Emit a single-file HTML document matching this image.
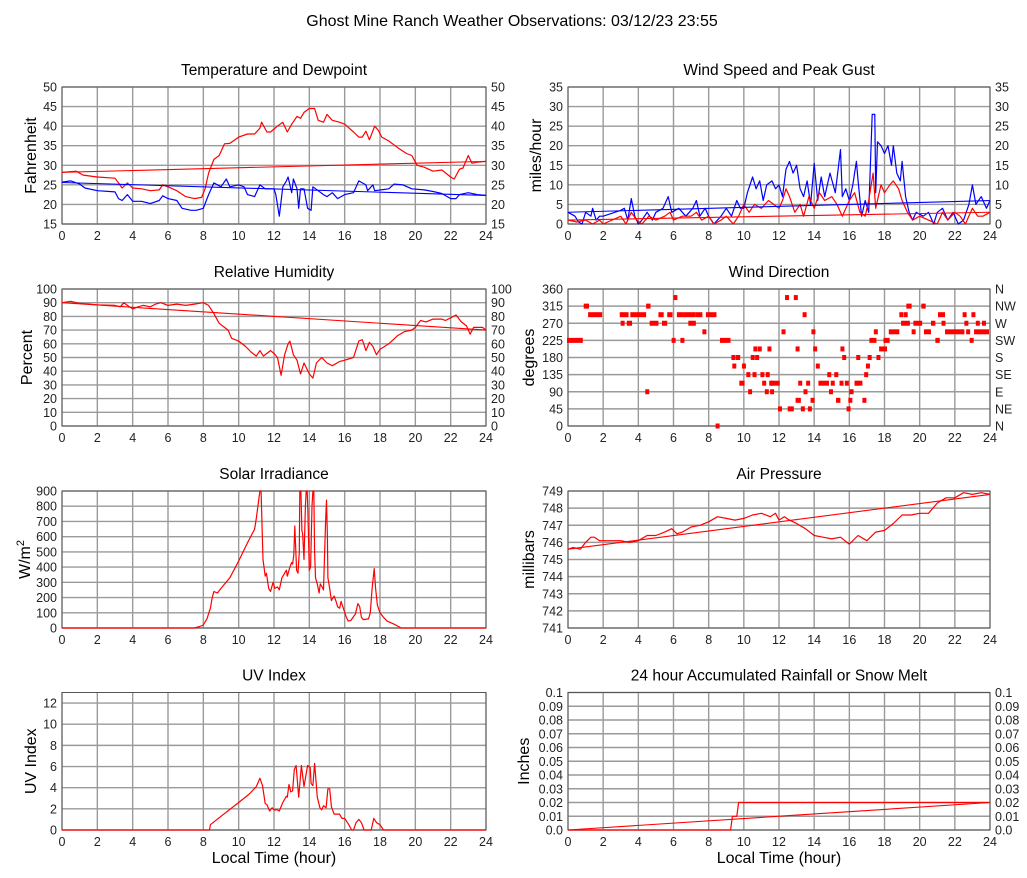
<!DOCTYPE html>
<html><head><meta charset="utf-8"><style>
body{margin:0;background:#fff;}
svg{display:block;font-family:"Liberation Sans",sans-serif;}
</style></head><body>
<svg id="c" width="1027" height="878" viewBox="0 0 1027 878">
<text x="512" y="26" text-anchor="middle" font-size="16">Ghost Mine Ranch Weather Observations: 03/12/23 23:55</text>
</svg>
<script>
// ---- data ----
const tempT=[0,0.8,1.2,2,3,3.2,3.4,3.7,4,4.5,5,5.5,5.7,6,6.5,7,7.5,7.9,8.1,8.3,8.6,8.9,9.2,9.5,10,10.5,10.9,11.2,11.3,11.6,11.8,12.2,12.5,12.75,13,13.3,13.5,13.7,14,14.3,14.5,14.8,15,15.3,15.7,16,16.5,16.8,17,17.2,17.4,17.7,17.9,18.1,18.5,19,19.5,19.8,20.1,20.5,21,21.5,22,22.2,22.5,22.7,23,23.2,23.5,24];
const tempV=[28.2,28.5,27.5,27,26.7,25.5,24.2,25.5,24.2,24,23.5,23.7,25,24.5,23.5,22,21.5,21.8,24,28,31.5,32.5,35.5,35.6,37.2,38,38,39.5,41,38.5,38.5,40,41,38.5,40.5,42.5,42,43.5,44.5,44.5,41.5,41,43,41.5,41,40.5,38.5,37.2,37.2,38.7,36.5,40,39,37.2,36.2,34.5,33,32.5,30,29.5,28.5,28.8,27,26.5,29,29.3,32.5,30.5,30.8,31];
const dewT=[0,0.5,1,1.3,2,3,3.2,3.4,3.7,4,4.5,5,5.5,5.7,6,6.5,6.8,7.3,7.6,8,8.3,8.6,9,9.3,9.5,10,10.3,10.5,10.9,11.2,11.5,12,12.1,12.3,12.5,12.7,12.8,13,13.1,13.3,13.4,13.5,13.7,13.9,14.1,14.2,14.5,14.8,15,15.3,15.6,16,16.5,16.8,17.2,17.3,17.6,17.7,18.5,18.8,19.3,19.8,20.5,21,21.5,22,22.3,22.5,23,23.5,24];
const dewV=[25.7,26,25.2,24.2,23.5,23.2,21.5,21,22.5,20.8,20.8,20.2,21,22.2,21.5,21,19,18.5,18.5,19,22.5,25.5,24.5,26.5,24.5,25,24.5,22.5,22,25,24,24,22.5,17,24.5,26,27,23,26.5,24,19,24,24,19,18.5,24.5,23.5,22.5,22,23,21.5,22.5,23,26,25,23.5,25,23.5,24,25.2,25,24,23.7,23.3,22.8,21.5,21.5,22.5,23,22.5,22.3];
const tempTrend=[28.2,31]; const dewTrend=[25.6,22.3];
const gustT=[0,0.4,0.6,0.8,1,1.3,1.4,1.6,1.8,2,3,3.2,3.4,3.6,3.8,4,4.2,4.5,4.8,5,5.4,5.7,5.9,6.3,6.7,7.1,7.3,7.5,7.8,8,8.3,8.7,9,9.3,9.6,9.8,10,10.2,10.5,10.7,10.9,11.1,11.3,11.6,11.8,12,12.2,12.4,12.6,12.8,13,13.2,13.4,13.6,13.8,14,14.2,14.4,14.6,14.9,15.2,15.5,15.6,15.8,16,16.2,16.4,16.5,16.7,16.9,17.1,17.3,17.45,17.5,17.6,17.8,18,18.2,18.4,18.5,18.7,18.9,19,19.2,19.4,19.6,19.8,20.2,20.5,20.8,21,21.3,21.6,21.9,22.2,22.5,22.8,23,23.2,23.5,23.8,24];
const gustV=[3,2,0.5,0,3,2,4,1,2,2,3.5,4,1,6.5,2,0,1,3,1,3,4,7,3,4,2,4,6,2,4,2,0,2,4,2,6,4,4,8,12,9,11,6,10,11,9,10,7,14,16,13,15,9,7,11,5,15.5,6,12,7,13,8,19,7,9,6,10,16,11,2,6,3,28,28,8,21,20,18,20,15,20,13,11,16,7,3,1,3,2,3,0,3,4,1,3,0,1,5,10,5,7,4,6];
const spdT=[0,0.5,1,1.4,1.8,2,3,3.3,3.6,3.9,4.2,4.6,5,5.5,5.8,6,6.5,7,7.3,7.6,8,8.3,8.7,9,9.4,9.7,10,10.3,10.6,11,11.4,11.7,12,12.2,12.4,12.6,12.9,13.2,13.4,13.7,14,14.3,14.6,15,15.3,15.6,16,16.3,16.6,16.9,17.1,17.35,17.5,17.8,18,18.3,18.5,18.8,19,19.3,19.6,20,20.5,21,21.3,21.6,22,22.3,22.6,23,23.3,23.6,24];
const spdV=[1,0.5,1,0,1,0,2,0,3,1,0,2,1,2,3,1,2,2,3,1,2,0,1,2,0,2,5,3,5,4,6,5,4,6,9,7,3,5,2,7,4,8,6,7,5,2,6,8,3,2,6,13,4,10,8,10,11,9,6,3,1,2,1,0,3,1,3,2,0,4,2,2,3];
const gustTrend=[3,6]; const spdTrend=[1,3];
const rhT=[0,0.5,1,2,3,3.3,3.5,3.7,4,4.3,4.6,5,5.3,5.6,6,6.5,7,7.5,8,8.3,8.6,8.9,9.2,9.4,9.6,10,10.4,10.7,11,11.2,11.4,11.8,12,12.2,12.4,12.6,12.8,12.9,13.1,13.3,13.5,13.7,14,14.2,14.4,14.7,15,15.3,15.7,16,16.5,16.8,17,17.2,17.4,17.6,17.8,18,18.5,19,19.4,19.8,20,20.3,20.6,21,21.5,21.7,22,22.3,22.6,22.9,23.1,23.3,23.8,24];
const rhV=[90,91,89.5,88.5,88,87,90,88,85.5,87,88,87,89,90,88,89,88,89,90,88,82,75,72,70,64,62,58,54,51,55,51,55,53,50,37,52,60,62,52,48,38,46,38,35,46,50,46,44,47,48,50,62,63,55,61,58,52,56,60,66,69,70,72,77,76,78,78,77,79,81,76,73,67,72,72,70];
const rhTrend=[90,70];
const dirStart=[0,0.95,1.2,3,3.05,3.4,3.6,4.45,4.5,4.7,5.2,5.4,5.7,5.95,6.05,6.25,6.45,6.6,6.9,7.1,7.3,7.7,7.9,8.45,8.7,9.35,9.4,9.6,9.8,9.95,10.2,10.3,10.45,10.55,10.6,10.7,10.85,11,11.1,11.25,11.3,11.4,11.5,11.55,11.6,12,12.2,12.4,12.55,12.9,13,13,13.15,13.3,13.4,13.45,13.6,13.7,13.85,13.9,14,14.15,14.3,14.8,14.9,15,15.2,15.3,15.5,15.55,15.65,15.8,15.9,16,16.05,16.35,16.45,16.5,16.8,16.9,17,17.1,17.2,17.45,17.6,17.75,18,18.3,18.9,19,19.15,19.3,19.6,19.7,20.15,20.3,20.7,20.95,21.1,21.3,21.5,22.5,22.6,22.7,22.9,23,23.15,23.25,23.6];
const dirEnd=[0.9,1.25,2,3.5,3.15,3.7,4.5,4.55,4.75,5.2,5.5,5.7,6,6.05,6.25,6.6,6.65,7.3,7,7.25,7.7,7.9,8.5,8.65,9.3,9.55,9.6,9.85,10.1,10.05,10.35,10.5,10.6,10.65,10.7,10.9,10.95,11.2,11.2,11.3,11.45,11.5,11.6,11.65,12.1,12.2,12.4,12.5,12.9,13,13.05,13.3,13.25,13.4,13.5,13.55,13.75,13.85,13.95,14,14.15,14.25,14.9,15,15,15.2,15.35,15.55,15.6,15.65,15.8,16,16,16.2,16.3,16.45,16.6,16.8,16.9,17.05,17.1,17.2,17.6,17.55,17.75,18.2,18.35,18.9,19.05,19.5,19.25,19.6,19.7,20.2,20.4,20.7,20.95,21.2,21.5,21.4,22.6,22.6,22.7,22.9,23,23.2,24,23.35,23.7];
const dirV=[225,315,292.5,292.5,270,270,292.5,90,315,270,292.5,270,292.5,225,337.5,292.5,225,292.5,270,270,292.5,247.5,292.5,0,225,180,157.5,180,112.5,157.5,135,90,180,135,202.5,180,202.5,135,112.5,90,135,202.5,112.5,90,112.5,45,247.5,337.5,45,337.5,202.5,67.5,112.5,45,292.5,90,112.5,45,67.5,247.5,202.5,157.5,112.5,135,90,112.5,135,67.5,112.5,202.5,180,112.5,45,67.5,90,112.5,180,112.5,67.5,135,157.5,180,225,247.5,180,202.5,225,247.5,292.5,270,292.5,315,247.5,270,315,247.5,270,225,292.5,270,247.5,292.5,270,247.5,225,292.5,247.5,270,270];
const solT=[0,7.5,7.8,8,8.2,8.4,8.5,8.6,8.8,9,9.5,10,10.5,10.9,11,11.2,11.27,11.32,11.38,11.5,11.57,11.7,11.8,11.95,12.05,12.2,12.3,12.45,12.7,12.75,12.9,13,13.05,13.12,13.18,13.28,13.36,13.43,13.46,13.52,13.58,13.62,13.7,13.78,13.82,13.88,13.92,14,14.07,14.15,14.2,14.25,14.3,14.35,14.45,14.55,14.62,14.72,14.8,14.92,14.97,15.02,15.05,15.15,15.25,15.4,15.5,15.6,15.72,15.8,15.95,16.1,16.2,16.35,16.5,16.6,16.75,16.85,16.95,17.05,17.35,17.45,17.55,17.67,17.75,17.85,18,18.2,18.4,18.8,19.2,24];
const solV=[0,0,10,20,60,130,200,240,230,260,330,440,560,650,720,900,900,680,450,340,360,260,240,300,260,270,250,330,380,340,400,430,420,480,670,380,360,500,900,900,640,620,450,800,900,900,760,380,400,800,900,900,500,330,290,230,290,270,250,700,840,600,330,260,180,210,180,140,130,175,120,70,45,50,75,90,160,140,70,55,60,100,260,390,260,150,100,70,45,25,0,0];
const presT=[0,0.3,0.7,1,1.3,1.5,1.8,3,3.5,4,4.5,5,5.5,5.9,6.2,6.5,7,7.5,8,8.5,9,9.5,10,10.5,11,11.5,11.8,12,12.3,12.6,12.8,13,13.5,14,14.5,15,15.5,16,16.5,17,17.5,18,18.5,19,19.5,20,20.5,21,21.5,22,22.5,23,23.5,24];
const presV=[745.6,745.7,745.6,746,746.3,746.3,746.1,746.1,746,746.1,746.4,746.4,746.6,746.8,746.5,746.6,746.9,747,747.2,747.5,747.4,747.3,747.4,747.6,747.7,747.5,747.7,747.3,747.5,747.3,747.2,747.1,746.8,746.4,746.3,746.2,746.3,745.9,746.4,746.1,746.6,746.7,747.1,747.6,747.6,747.7,747.7,748.3,748.6,748.6,748.9,748.8,748.9,748.8];
const presTrend=[745.6,748.8];
const uvT=[0,8.35,8.4,9,10,10.6,11,11.2,11.35,11.5,11.6,11.75,11.9,12,12.2,12.3,12.5,12.7,12.75,12.85,12.95,13.05,13.15,13.25,13.4,13.55,13.7,13.9,14.05,14.1,14.2,14.3,14.45,14.6,14.7,14.8,14.95,15.05,15.15,15.25,15.4,15.7,15.85,16,16.2,16.4,16.5,16.65,16.8,16.95,17.1,17.5,17.65,17.8,18,18.2,24];
const uvV=[0,0,0.5,1.3,2.6,3.4,4.1,4.9,4.2,2.5,2.4,1.8,2.1,1.9,1.9,1.8,2.6,3.2,3.1,4.3,3.6,3.7,5.7,6.1,3.1,6.1,4.1,6.1,5.9,4.4,4.2,6.3,3.1,2.1,1.9,2.3,2.1,3.9,3.9,2.2,1.5,1.5,1.1,1.1,0.6,0,0,0.7,1,0.7,0,0,1.1,0.7,0.5,0,0];
const rainT=[0,9.25,9.35,9.6,9.7,24];
const rainV=[0,0,0.01,0.01,0.02,0.02];
const rainTrend=[0,0.02];
const xTicks=[0,2,4,6,8,10,12,14,16,18,20,22,24];

const svg=document.getElementById('c');
const NS='http://www.w3.org/2000/svg';
function mk(tag,attrs,parent){const e=document.createElementNS(NS,tag);for(const k in attrs)e.setAttribute(k,attrs[k]);(parent||svg).appendChild(e);return e;}

function panel(p){
  const g=mk('g',{});
  
  
  const sx=h=>p.x0+(p.x1-p.x0)*h/24;
  const sy=v=>p.y1-(p.y1-p.y0)*(v-p.min)/(p.max-p.min);
  xTicks.forEach(h=>{const l=mk('line',{x1:sx(h),x2:sx(h),y1:p.y0,y2:p.y1,stroke:'#9a9a9a','stroke-width':1.4},g);
    
    const t=mk('text',{x:sx(h),y:p.y1+16,'text-anchor':'middle','font-size':12.5,fill:'#222'},g);t.textContent=h;
    });
  p.ticks.forEach((v,i)=>{const l=mk('line',{x1:p.x0,x2:p.x1,y1:sy(v),y2:sy(v),stroke:'#9a9a9a','stroke-width':1.4},g);
    
    const t=mk('text',{x:p.x0-5,y:sy(v)+4.5,'text-anchor':'end','font-size':12.5,fill:'#222'},g);t.textContent=p.labels[i];
    
    if(p.rlabels){const r=mk('text',{x:p.x1+5,y:sy(v)+4.5,'font-size':12.5,fill:'#222'},g);r.textContent=p.rlabels[i];
      }
  });
  const fr=mk('rect',{x:p.x0,y:p.y0,width:p.x1-p.x0,height:p.y1-p.y0,fill:'none',stroke:'#555','stroke-width':1},g);
  
  const tt=mk('text',{x:(p.x0+p.x1)/2,y:p.y0-12,'text-anchor':'middle','font-size':15.5},g);tt.textContent=p.title;
  
  const yl=mk('text',{x:0,y:0,'text-anchor':'middle','font-size':16,transform:`translate(${p.ylx},${(p.y0+p.y1)/2}) rotate(-90)`},g);
  if(p.ysup){yl.textContent=p.ylabel;const s=mk('tspan',{dy:-6,'font-size':11},yl);s.textContent='2';}else yl.textContent=p.ylabel;
  
  if(p.xlabel){const xl=mk('text',{x:(p.x0+p.x1)/2,y:p.y1+33,'text-anchor':'middle','font-size':16},g);xl.textContent='Local Time (hour)';
    }
  return {g,sx,sy};
}
function series(P,T,V,color,name,w){
  const d=T.map((t,i)=>(i?'L':'M')+P.sx(t).toFixed(1)+','+P.sy(V[i]).toFixed(1)).join('');
  const e=mk('path',{d,fill:'none',stroke:color,'stroke-width':w||1.2,'stroke-linejoin':'round'},P.g);
  
}
function trend(P,v,color,name){
  const e=mk('line',{x1:P.sx(0),y1:P.sy(v[0]),x2:P.sx(24),y2:P.sy(v[1]),stroke:color,'stroke-width':1.1},P.g);
  
}
const L0=62,L1=486,R0=568,R1=990;
const r1=[87,224],r2=[289,426],r3=[491,628],r4=[692.5,830];
const rng=(a,b,s)=>{const o=[];for(let v=a;v<=b+1e-9;v+=s)o.push(+v.toFixed(3));return o;};

let t1=rng(15,50,5);
let P=panel({name:'temperature-panel',x0:L0,x1:L1,y0:r1[0],y1:r1[1],min:15,max:50,ticks:t1,labels:t1,rlabels:t1,title:'Temperature and Dewpoint',ylabel:'Fahrenheit',ylx:36});
series(P,tempT,tempV,'#f00','temperature-line');series(P,dewT,dewV,'#00f','dewpoint-line');
trend(P,tempTrend,'#f00','temperature-trend');trend(P,dewTrend,'#00f','dewpoint-trend');
let t2=rng(0,35,5);
P=panel({name:'wind-speed-panel',x0:R0,x1:R1,y0:r1[0],y1:r1[1],min:0,max:35,ticks:t2,labels:t2,rlabels:t2,title:'Wind Speed and Peak Gust',ylabel:'miles/hour',ylx:541});
series(P,gustT,gustV,'#00f','gust-line');series(P,spdT,spdV,'#f00','speed-line');
trend(P,gustTrend,'#00f','gust-trend');trend(P,spdTrend,'#f00','speed-trend');
let t3=rng(0,100,10);
P=panel({name:'humidity-panel',x0:L0,x1:L1,y0:r2[0],y1:r2[1],min:0,max:100,ticks:t3,labels:t3,rlabels:t3,title:'Relative Humidity',ylabel:'Percent',ylx:32});
series(P,rhT,rhV,'#f00','humidity-line');trend(P,rhTrend,'#f00','humidity-trend');
let t4=rng(0,360,45);
P=panel({name:'wind-direction-panel',x0:R0,x1:R1,y0:r2[0],y1:r2[1],min:0,max:360,ticks:t4,labels:t4,rlabels:['N','NE','E','SE','S','SW','W','NW','N'],title:'Wind Direction',ylabel:'degrees',ylx:534});
dirV.forEach((v,i)=>{const x=P.sx(dirStart[i]);const w=Math.max(4,P.sx(dirEnd[i])-x);
  const r=mk('rect',{x:x-1,y:P.sy(v)-2.5,width:w,height:5,fill:'#f00'},P.g);
  });
let t5=rng(0,900,100);
P=panel({name:'solar-panel',x0:L0,x1:L1,y0:r3[0],y1:r3[1],min:0,max:900,ticks:t5,labels:t5,title:'Solar Irradiance',ylabel:'W/m',ysup:true,ylx:30});
series(P,solT,solV,'#f00','solar-line');
let t6=rng(741,749,1);
P=panel({name:'pressure-panel',x0:R0,x1:R1,y0:r3[0],y1:r3[1],min:741,max:749,ticks:t6,labels:t6,title:'Air Pressure',ylabel:'millibars',ylx:534});
series(P,presT,presV,'#f00','pressure-line');trend(P,presTrend,'#f00','pressure-trend');
let t7=rng(0,12,2);
P=panel({name:'uv-panel',x0:L0,x1:L1,y0:r4[0],y1:r4[1],min:0,max:13,ticks:t7,labels:t7,title:'UV Index',ylabel:'UV Index',ylx:36,xlabel:true});
series(P,uvT,uvV,'#f00','uv-line');
let t8=rng(0,0.1,0.01);
let l8=t8.map(v=>v===0?'0.0':(v===0.1?'0.1':v.toFixed(2)));
P=panel({name:'rain-panel',x0:R0,x1:R1,y0:r4[0],y1:r4[1],min:0,max:0.1,ticks:t8,labels:l8,rlabels:l8,title:'24 hour Accumulated Rainfall or Snow Melt',ylabel:'Inches',ylx:529,xlabel:true});
series(P,rainT,rainV,'#f00','rain-line');trend(P,rainTrend,'#f00','rain-trend');
</script>
</body></html>
